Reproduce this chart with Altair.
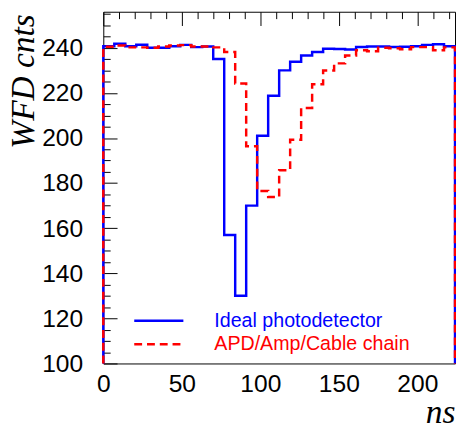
import altair as alt
import pandas as pd

# ---- data ----
series_names = ["Ideal photodetector", "APD/Amp/Cable chain"]
series_colors = ["#0000ff", "#ff0000"]
bin_width = 7  # ns
ideal = [240.7, 241.8, 240.7, 241.4, 240.0, 240.0, 240.7, 241.3, 240.3, 240.6,
         235.0, 157.0, 130.0, 170.0, 201.0, 218.7, 230.0, 233.8, 236.6, 238.1,
         239.6, 239.5, 239.3, 240.4, 240.6, 240.6, 240.4, 240.5, 240.7, 241.3,
         241.6, 240.7]
apd = [240.5, 241.0, 240.2, 240.2, 240.0, 240.6, 241.0, 241.2, 240.6, 240.6,
       240.2, 238.1, 224.2, 196.3, 176.5, 173.8, 185.7, 199.2, 213.3, 223.8,
       229.9, 233.1, 236.6, 238.9, 238.5, 240.0, 239.8, 239.4, 240.3, 240.3,
       238.9, 240.2]
x_domain = [0, 224]
y_domain = [100, 256]
x_tick_values = list(range(0, 221, 10))   # labelled every 50
y_tick_values = list(range(100, 256, 5))  # labelled every 20

# ---- build histogram outlines (ROOT style, closed to the minimum) ----
rows = []
for name, vals in zip(series_names, [ideal, apd]):
    pts = [(x_domain[0], y_domain[0])]
    for i, v in enumerate(vals):
        pts.append((i * bin_width, v))
        pts.append(((i + 1) * bin_width, v))
    pts.append((len(vals) * bin_width, y_domain[0]))
    for k, (x, y) in enumerate(pts):
        rows.append({"series": name, "x": x, "y": y, "order": k})
df = pd.DataFrame(rows)

W, H = 358, 358
FONT = "Liberation Sans"
SERIF = "Liberation Serif"

xs = alt.Scale(domain=x_domain, nice=False, zero=False)
ys = alt.Scale(domain=y_domain, nice=False, zero=False)

legend = alt.Legend(
    orient="none", legendX=45, legendY=303, title=None,
    symbolType="M-2.5,0L2.5,0", symbolSize=400, symbolStrokeWidth=2.5,
    labelFont=FONT, labelFontSize=20, labelOffset=45, rowPadding=2, padding=0,
    labelLimit=400,
    labelColor={"expr": "datum.value === 'Ideal photodetector' ? '#0000ff' : '#ff0000'"},
)

# inward ROOT-style ticks drawn as short dashed grid lines starting at the axis
x_axis = alt.Axis(
    orient="bottom", values=x_tick_values, ticks=False, domain=False,
    grid=True, gridColor="black", gridWidth=1, gridOpacity=1,
    gridDash={"condition": {"test": "datum.value % 50 === 0", "value": [14, 3000]},
              "value": [7, 3000]},
    labelExpr="datum.value % 50 === 0 ? datum.label : ''",
    labelFlush=False,
    labelFont=FONT, labelFontSize=25, labelColor="black", labelPadding=9,
    title="ns", titleFont=SERIF, titleFontStyle="italic", titleFontWeight="normal",
    titleFontSize=34, titleColor="black", titleAlign="right", titleBaseline="alphabetic",
    titleX=W, titleY=60)
y_axis = alt.Axis(
    orient="left", values=y_tick_values, ticks=False, domain=False,
    grid=True, gridColor="black", gridWidth=1, gridOpacity=1,
    gridDash={"condition": {"test": "datum.value % 20 === 0", "value": [14, 3000]},
              "value": [7, 3000]},
    labelExpr="datum.value % 20 === 0 ? datum.label : ''",
    labelFlush=False,
    labelFont=FONT, labelFontSize=25, labelColor="black", labelPadding=21,
    title="WFD cnts", titleFont=SERIF, titleFontStyle="italic", titleFontWeight="normal",
    titleFontSize=34, titleColor="black", titleAngle=270, titleAlign="right",
    titleBaseline="alphabetic", titleX=-71, titleY=2)

chart = alt.Chart(df).mark_line(strokeWidth=2.5).encode(
    x=alt.X("x:Q", scale=xs, axis=x_axis),
    y=alt.Y("y:Q", scale=ys, axis=y_axis),
    color=alt.Color("series:N", scale=alt.Scale(domain=series_names, range=series_colors),
                    legend=legend),
    strokeDash=alt.StrokeDash("series:N",
                              scale=alt.Scale(domain=series_names, range=[[1, 0], [8, 5]]),
                              legend=legend),
    order="order:Q",
).properties(
    width=W, height=H,
    autosize=alt.AutoSizeParams(type="none"),
    padding={"left": 97, "top": 0, "right": 1, "bottom": 69},
).configure_view(stroke="black", strokeWidth=1)

chart.save("out.html", embed_options={"renderer": "svg", "actions": False})
